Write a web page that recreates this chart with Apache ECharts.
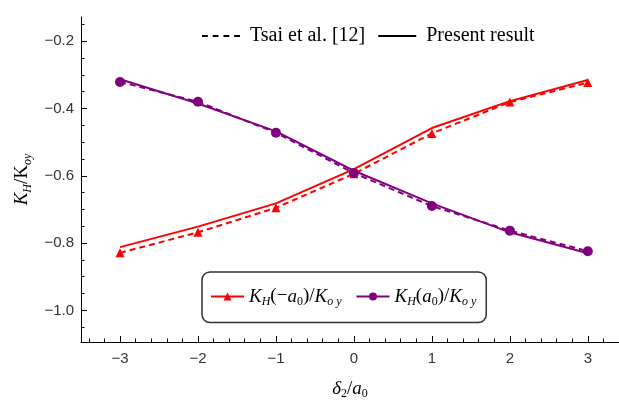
<!DOCTYPE html>
<html>
<head>
<meta charset="utf-8">
<script src="https://cdn.jsdelivr.net/npm/echarts@6/dist/echarts.min.js"></script>
<style>html,body{margin:0;padding:0;background:#fff}#c{width:619px;height:405px}</style>
</head>
<body>
<div id="c"></div>
<script>
const xValues = [-3, -2, -1, 0, 1, 2, 3];
const redTsai = [-0.829, -0.768, -0.695, -0.594, -0.474, -0.381, -0.323];
const redPresent = [-0.812, -0.751, -0.682, -0.580, -0.458, -0.378, -0.315];
const purpleTsai = [-0.321, -0.380, -0.472, -0.592, -0.690, -0.763, -0.824];
const purplePresent = [-0.313, -0.385, -0.468, -0.585, -0.682, -0.768, -0.830];
const xTicks = [-3, -2, -1, 0, 1, 2, 3];
const yTicks = [-1.0, -0.8, -0.6, -0.4, -0.2];

const X_MIN = -3.5, X_MAX = 3.4, Y_MIN = -1.094, Y_MAX = -0.128;
const xMinor = [], yMinor = [];
for (let k = -17; k <= 17; k++) xMinor.push(+(k * 0.2).toFixed(2));
for (let k = -21; k <= -3; k++) yMinor.push(+(k * 0.05).toFixed(2));

const RED = '#ff0000', PURPLE = '#800080';
const pair = arr => xValues.map((x, i) => [x, arr[i]]);
const num = v => Number(v && typeof v === 'object' ? v.value : v);
const fmt = (v, d) => { const n = num(v); const s = d ? Math.abs(n).toFixed(d) : String(Math.abs(Math.round(n))); return (n < -1e-9 ? '\u2212' : '') + s; };

const serif = 'Liberation Serif';
const rich = {
  i: {fontFamily: serif, fontStyle: 'italic', fontSize: 19, color: '#000'},
  n: {fontFamily: serif, fontSize: 19, color: '#000'},
  s: {fontFamily: serif, fontStyle: 'italic', fontSize: 12, color: '#000', padding: [10, 0, 0, 0]},
  sn: {fontFamily: serif, fontSize: 12, color: '#000', padding: [10, 0, 0, 0]}
};

const chart = echarts.init(document.getElementById('c'), null, {renderer: 'canvas'});
chart.setOption({
  animation: false,
  grid: {left: 81, right: 0, top: 17, bottom: 58},
  xAxis: [
    {
      type: 'value', min: X_MIN, max: X_MAX,
      axisLine: {show: true, onZero: false, lineStyle: {color: '#000', width: 1}},
      axisTick: {show: true, inside: true, length: 6, customValues: xTicks, lineStyle: {color: '#000'}},
      splitLine: {show: false},
      axisLabel: {
        customValues: xTicks,
        color: '#333', fontFamily: 'Liberation Sans', fontSize: 15, margin: 9,
        formatter: v => fmt(v, 0)
      },
      name: '{i|δ}{sn|2}{n|/}{i|a}{sn|0}',
      nameLocation: 'middle', nameGap: 36,
      nameTextStyle: {rich: rich}
    },
    {
      type: 'value', min: X_MIN, max: X_MAX, position: 'bottom',
      axisLine: {show: false, onZero: false},
      axisTick: {show: true, inside: true, length: 3.5, customValues: xMinor, lineStyle: {color: '#000'}},
      axisLabel: {show: false}, splitLine: {show: false}
    }
  ],
  yAxis: [
    {
      type: 'value', min: Y_MIN, max: Y_MAX,
      axisLine: {show: true, onZero: false, lineStyle: {color: '#000', width: 1}},
      axisTick: {show: true, inside: true, length: 6, customValues: yTicks, lineStyle: {color: '#000'}},
      splitLine: {show: false},
      axisLabel: {
        customValues: yTicks,
        color: '#333', fontFamily: 'Liberation Sans', fontSize: 15, margin: 7,
        formatter: v => fmt(v, 1)
      },
      name: '{i|K}{s|H}{n|/K}{s|oy}',
      nameLocation: 'middle', nameGap: 42,
      nameTextStyle: {rich: rich}
    },
    {
      type: 'value', min: Y_MIN, max: Y_MAX, position: 'left',
      axisLine: {show: false, onZero: false},
      axisTick: {show: true, inside: true, length: 3.5, customValues: yMinor, lineStyle: {color: '#000'}},
      axisLabel: {show: false}, splitLine: {show: false}
    }
  ],
  legend: [
    {
      data: [
        {name: 'Tsai et al. [12]', icon: 'path://M0,0H6V2H0Z M11,0H17V2H11Z M22,0H28V2H22Z M33,0H39V2H33Z'},
        {name: 'Present result', icon: 'path://M0,0H39V2H0Z'}
      ],
      left: 202, top: 26, padding: 0, itemWidth: 38, itemHeight: 2, itemGap: 13,
      textStyle: {fontFamily: serif, fontSize: 20, color: '#000', padding: [0, 0, 0, 5]},
      selectedMode: false
    },
    {
      data: ['redTsai', 'purpleTsai'],
      left: 202, top: 272, itemWidth: 33, itemHeight: 10, itemGap: 14,
      padding: [15, 10, 15, 8],
      borderColor: '#333', borderWidth: 1.5, borderRadius: 8,
      lineStyle: {type: 'solid', width: 2},
      selectedMode: false,
      formatter: name => name === 'redTsai'
        ? '{i|K}{s|H}{n|(\u2212}{i|a}{sn|0}{n|)/}{i|K}{s|o y}'
        : '{i|K}{s|H}{n|(}{i|a}{sn|0}{n|)/}{i|K}{s|o y}',
      textStyle: {rich: rich}
    }
  ],
  series: [
    {name: 'Tsai et al. [12]', type: 'line', data: [], symbol: 'none',
     lineStyle: {color: '#000', width: 2, type: [5, 4]}, itemStyle: {color: '#000'}},
    {name: 'Present result', type: 'line', data: [], symbol: 'none',
     lineStyle: {color: '#000', width: 2, type: 'solid'}, itemStyle: {color: '#000'}},
    {name: 'redPresent', type: 'line', data: pair(redPresent), symbol: 'none',
     lineStyle: {color: RED, width: 2}, itemStyle: {color: RED}},
    {name: 'redTsai', type: 'line', data: pair(redTsai), symbol: 'triangle', symbolSize: 9,
     lineStyle: {color: RED, width: 2, type: [6, 4]}, itemStyle: {color: RED}},
    {name: 'purplePresent', type: 'line', data: pair(purplePresent), symbol: 'none',
     lineStyle: {color: PURPLE, width: 2}, itemStyle: {color: PURPLE}},
    {name: 'purpleTsai', type: 'line', data: pair(purpleTsai), symbol: 'circle', symbolSize: 10,
     lineStyle: {color: PURPLE, width: 2, type: [6, 4]}, itemStyle: {color: PURPLE}}
  ]
});
</script>
</body>
</html>
